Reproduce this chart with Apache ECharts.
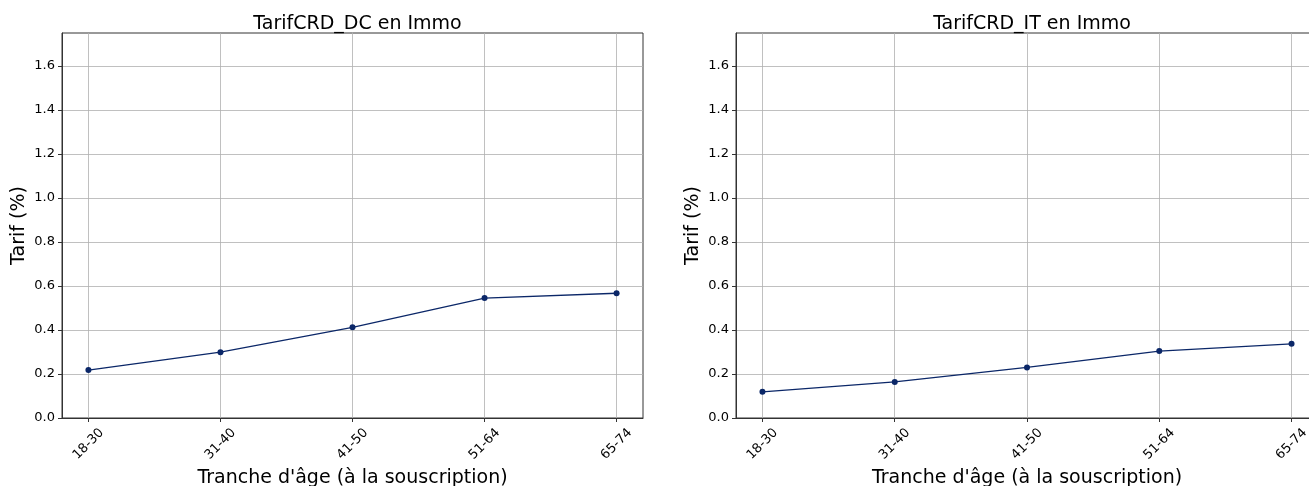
<!DOCTYPE html>
<html><head><meta charset="utf-8">
<script src="https://cdn.jsdelivr.net/npm/echarts@6/dist/echarts.min.js"></script>
<style>html,body{margin:0;padding:0;background:#fff}#c{width:1309px;height:486px}</style>
</head><body><div id="c"></div>
<script>
const categories = ['18-30','31-40','41-50','51-64','65-74'];
const tarifDC = [0.218, 0.299, 0.412, 0.545, 0.567];
const tarifIT = [0.119, 0.164, 0.230, 0.304, 0.337];
const titles = ['TarifCRD_DC en Immo', 'TarifCRD_IT en Immo'];
const yTicks = [0, 0.2, 0.4, 0.6, 0.8, 1.0, 1.2, 1.4, 1.6];
const xLabel = "Tranche d'âge (à la souscription)";
const yLabel = 'Tarif (%)';

const FONT = 'DejaVu Sans';
const chart = echarts.init(document.getElementById('c'), null, {renderer: 'canvas'});
const grids = [
  {left: 62, top: 33, width: 581, height: 385},
  {left: 736, top: 33, width: 582, height: 385}
];
const idx = categories.map((_, i) => i);
function xAxis(g) {
  return {
    type: 'value', gridIndex: g, min: -0.2, max: 4.2,
    axisLine: {show: true, onZero: false, lineStyle: {color: '#333', width: 1}},
    axisTick: {show: true, customValues: idx, length: 4, lineStyle: {color: '#333'}},
    axisLabel: {customValues: idx, formatter: v => categories[Math.round(v)] || '',
      rotate: 45, align: 'center', verticalAlign: 'middle', margin: 26,
      fontFamily: FONT, fontSize: 13, color: '#000'},
    splitLine: {show: true, lineStyle: {color: '#b0b0b0', width: 0.8}},
    name: xLabel, nameLocation: 'middle', nameGap: 47,
    nameTextStyle: {fontFamily: FONT, fontSize: 19, color: '#000'}
  };
}
function yAxis(g) {
  return {
    type: 'value', gridIndex: g, min: 0, max: 1.75, interval: 0.2,
    axisLine: {show: true, onZero: false, lineStyle: {color: '#333', width: 1}},
    axisTick: {show: true, customValues: yTicks, length: 4, lineStyle: {color: '#333'}},
    axisLabel: {customValues: yTicks, formatter: v => v.toFixed(1), margin: 7,
      fontFamily: FONT, fontSize: 13, color: '#000'},
    splitLine: {show: true, lineStyle: {color: '#b0b0b0', width: 0.8}},
    name: yLabel, nameLocation: 'middle', nameGap: 33, nameRotate: 90,
    nameTextStyle: {fontFamily: FONT, fontSize: 19, color: '#000'}
  };
}
function series(g, data) {
  return {
    type: 'line', xAxisIndex: g, yAxisIndex: g,
    data: data.map((v, i) => [idx[i], v]),
    symbol: 'circle', symbolSize: 6,
    lineStyle: {color: '#0b2768', width: 1.3},
    itemStyle: {color: '#0b2768'},
    animation: false
  };
}
chart.setOption({
  backgroundColor: '#fff',
  animation: false,
  title: titles.map((t, i) => ({
    text: t, left: grids[i].left + grids[i].width / 2, top: 10, textAlign: 'center',
    textStyle: {fontFamily: FONT, fontSize: 19, fontWeight: 'normal', color: '#000'}
  })),
  grid: grids.map(g => Object.assign({show: true, borderColor: '#333', borderWidth: 1,
    backgroundColor: 'transparent', containLabel: false, outerBoundsMode: 'none'}, g)),
  xAxis: [xAxis(0), xAxis(1)],
  yAxis: [yAxis(0), yAxis(1)],
  series: [series(0, tarifDC), series(1, tarifIT)]
});
</script></body></html>
